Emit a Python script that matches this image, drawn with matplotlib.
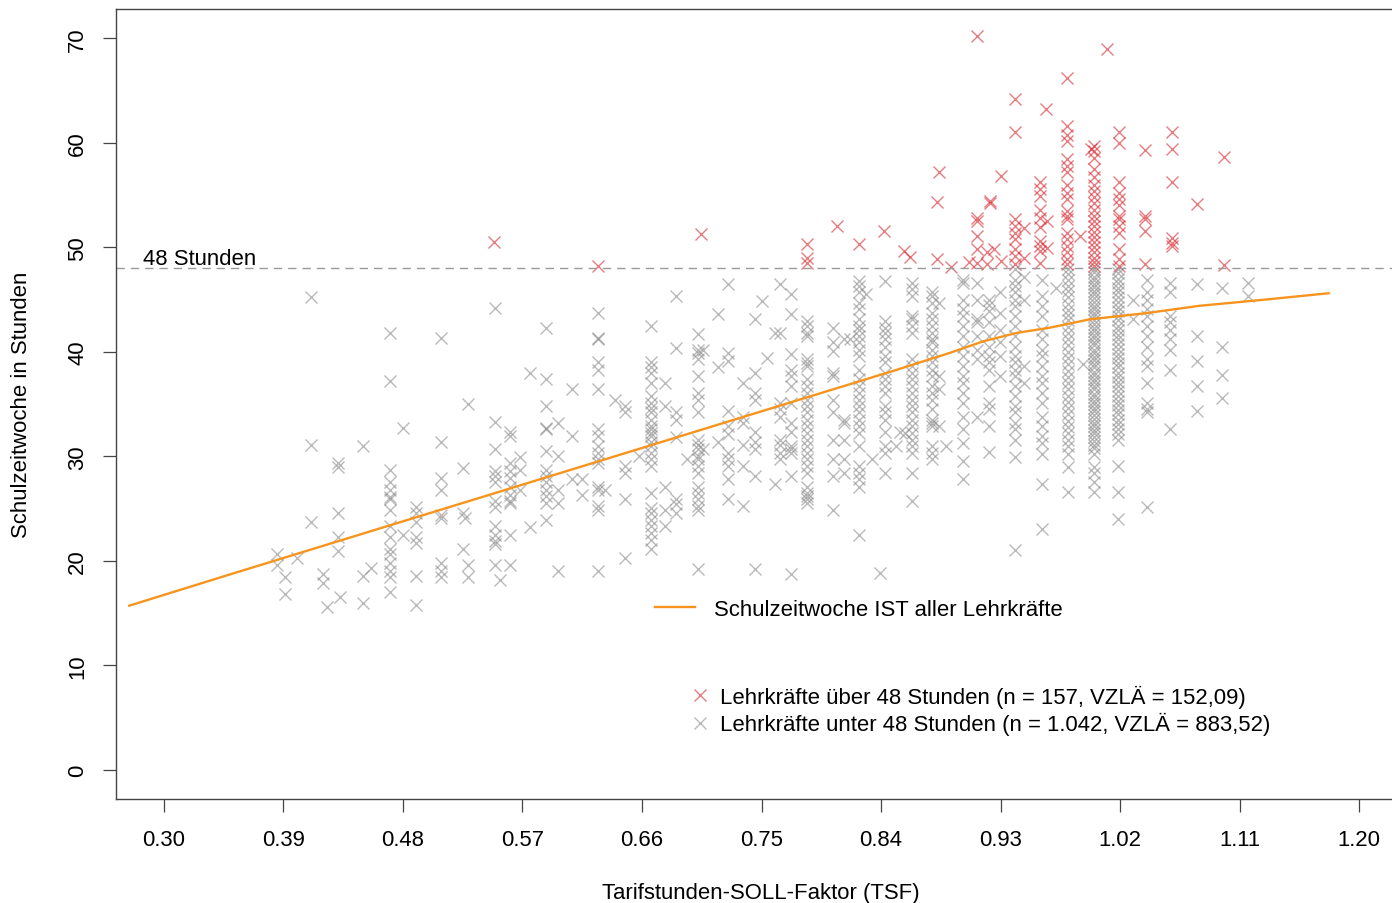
import matplotlib
matplotlib.use('Agg')
import matplotlib.pyplot as plt
from matplotlib.lines import Line2D

plt.rcParams['font.family'] = ['Liberation Sans', 'DejaVu Sans']
FS = 15.9

# TSF-Spalten und Schulzeitwoche (Stunden) der Lehrkräfte unter 48 Stunden
grey_tsf = [0.385, 0.391, 0.400, 0.411, 0.420, 0.423, 0.431, 0.433, 0.450, 0.456,
            0.470, 0.480, 0.490, 0.509, 0.525, 0.527, 0.529, 0.549, 0.553, 0.561,
            0.568, 0.576, 0.588, 0.597, 0.607, 0.615, 0.627, 0.632, 0.640, 0.647,
            0.658, 0.6665, 0.677, 0.686, 0.694, 0.7024, 0.706, 0.7175, 0.725, 0.736,
            0.745, 0.750, 0.754, 0.760, 0.764, 0.772, 0.784, 0.8035, 0.812, 0.817,
            0.8234, 0.829, 0.833, 0.839, 0.843, 0.851, 0.854, 0.858, 0.863, 0.878,
            0.884, 0.889, 0.902, 0.912, 0.921, 0.9296, 0.941, 0.948, 0.961, 0.972,
            0.981, 0.992, 1.000, 1.0187, 1.030, 1.040, 1.0576, 1.078, 1.097, 1.116]
grey_hours = [
    [20.6, 19.6], [18.4, 16.8], [20.3], [45.2, 31.1, 23.7], [18.7, 17.9], [15.6],
    [29.4, 29.0, 24.6, 22.3, 20.9], [16.5], [31.0, 18.5, 16.0], [19.3],
    [41.8, 37.2, 28.7, 27.5, 26.8, 26.1, 25.9, 24.9, 23.3, 22.3, 21.1, 20.6, 19.8, 19.0, 18.4, 17.0],
    [32.7, 22.5], [25.1, 24.6, 23.7, 22.3, 21.7, 18.5, 15.8],
    [41.3, 31.4, 27.9, 26.8, 24.4, 24.1, 19.8, 19.0, 18.4],
    [28.9, 24.6, 21.1], [24.1], [35.0, 19.6, 18.4],
    [44.2, 33.3, 30.7, 28.6, 28.1, 27.5, 25.7, 25.1, 23.3, 22.5, 21.9, 21.6, 19.6],
    [18.2], [32.3, 31.9, 29.4, 28.6, 27.9, 27.1, 26.3, 25.7, 25.5, 22.5, 19.6],
    [29.9, 28.7, 26.8], [38.0, 23.2],
    [42.3, 37.4, 34.8, 32.7, 32.6, 30.5, 28.7, 28.1, 27.5, 26.8, 26.2, 25.5, 23.9],
    [33.2, 30.0, 26.8, 25.5, 19.0], [36.4, 31.9, 27.8], [27.8, 26.3],
    [43.7, 41.3, 41.2, 39.0, 38.3, 36.4, 32.6, 31.9, 31.0, 30.3, 29.7, 29.4, 27.1, 26.8, 25.2, 24.9, 19.0],
    [26.8], [35.4], [34.8, 34.2, 29.1, 28.4, 25.9, 20.3], [30.0],
    [42.5, 39.0, 38.5, 38.0, 37.0, 35.8, 35.1, 34.6, 34.2, 33.5, 32.9, 32.6, 32.2, 31.9,
     31.4, 31.0, 30.3, 29.7, 29.1, 26.5, 25.0, 24.6, 23.9, 23.3, 22.7, 22.0, 21.1],
    [37.0, 34.8, 27.1, 24.9, 23.3], [45.3, 40.4, 34.2, 33.5, 31.8, 25.9, 25.4, 24.6], [29.7],
    [41.7, 40.2, 39.9, 39.3, 37.7, 36.1, 35.4, 34.2, 31.6, 31.1, 30.7, 30.0, 29.7, 29.1,
     28.4, 27.1, 26.5, 25.9, 25.2, 24.9, 19.2],
    [40.2, 30.7], [43.6, 38.5, 31.4],
    [46.5, 39.9, 39.1, 34.3, 32.9, 32.1, 30.3, 29.7, 29.1, 27.8, 25.9],
    [37.0, 33.8, 33.2, 31.1, 29.1, 25.2],
    [43.1, 38.0, 36.1, 35.4, 32.3, 31.4, 30.7, 28.1, 19.2], [44.9], [39.4], [41.8, 27.3],
    [46.5, 41.8, 35.1, 34.5, 33.8, 31.6, 31.1, 30.3, 29.7],
    [45.5, 43.6, 39.8, 38.3, 37.7, 36.7, 35.1, 33.2, 32.3, 31.0, 30.7, 30.3, 28.1, 18.7],
    [42.9, 42.5, 41.8, 41.5, 39.3, 38.9, 38.6, 37.4, 36.7, 36.1, 35.4, 34.8, 34.2, 33.5,
     32.9, 32.2, 31.6, 31.0, 30.3, 29.7, 29.1, 28.4, 27.1, 26.5, 26.2, 25.9, 25.5],
    [42.3, 40.9, 40.1, 38.0, 37.7, 35.4, 34.2, 31.6, 29.7, 28.1, 24.9],
    [41.2, 33.5, 33.2, 31.6, 29.7, 28.4], [41.2],
    [46.8, 46.3, 45.7, 44.7, 44.1, 43.1, 42.5, 42.1, 41.5, 40.9, 40.2, 39.6, 38.3, 37.4,
     36.7, 36.1, 35.4, 34.8, 34.2, 33.5, 32.9, 32.2, 31.0, 29.1, 28.4, 27.8, 27.1, 22.5],
    [45.5], [29.7], [18.8],
    [46.8, 42.9, 42.3, 41.8, 41.2, 40.5, 39.6, 39.0, 38.0, 37.4, 36.7, 36.1, 34.8, 34.2,
     33.5, 32.3, 31.0, 30.3, 28.4],
    [31.0], [32.3], [32.2],
    [46.6, 46.0, 45.3, 43.4, 43.1, 42.5, 41.8, 39.3, 38.6, 38.0, 37.4, 36.7, 36.1, 35.4,
     34.8, 34.2, 33.5, 32.9, 32.2, 31.6, 31.0, 30.3, 28.4, 25.7],
    [45.7, 45.3, 44.7, 43.7, 43.1, 42.5, 41.8, 41.2, 40.9, 40.2, 39.6, 39.0, 38.3, 37.7,
     36.7, 36.1, 35.4, 34.5, 33.5, 33.2, 32.9, 31.0, 30.3, 29.7],
    [44.7, 37.7, 36.4, 32.9], [31.0],
    [46.9, 46.6, 45.0, 44.1, 43.4, 42.5, 41.5, 40.5, 39.6, 38.6, 37.7, 37.0, 36.1, 35.1,
     33.8, 32.6, 31.3, 29.5, 27.8],
    [46.6, 45.0, 43.1, 42.8, 41.5, 40.2, 39.3, 33.8],
    [45.0, 44.5, 43.9, 42.8, 41.5, 40.5, 39.6, 39.0, 38.3, 36.7, 35.1, 34.5, 32.9, 30.4],
    [45.7, 43.7, 42.1, 40.9, 39.6, 37.7],
    [47.9, 46.9, 46.3, 45.7, 45.0, 44.4, 43.4, 42.5, 41.5, 40.5, 39.6, 39.0, 38.3, 37.7,
     36.7, 35.8, 34.8, 34.2, 33.2, 32.6, 31.6, 29.9, 21.0],
    [47.2, 45.0, 38.6, 37.0],
    [46.9, 45.3, 44.4, 43.4, 42.1, 41.2, 40.2, 39.6, 38.6, 37.7, 37.0, 36.1, 35.1, 33.8,
     32.9, 31.9, 31.3, 30.2, 27.3, 23.0],
    [46.1],
    [47.9, 47.4, 46.9, 46.3, 45.8, 45.2, 44.6, 44.0, 43.5, 43.0, 42.4, 41.8, 41.2, 40.6,
     40.0, 39.4, 38.8, 38.2, 37.6, 37.0, 36.4, 35.8, 35.2, 34.6, 34.0, 33.4, 32.8, 32.2,
     31.6, 31.0, 30.2, 29.0, 26.6],
    [38.8],
    [47.9, 47.6, 47.2, 46.9, 46.5, 46.2, 45.8, 45.5, 45.1, 44.8, 44.4, 44.1, 43.7, 43.4,
     43.0, 42.7, 42.3, 42.0, 41.6, 41.3, 40.9, 40.6, 40.2, 39.9, 39.5, 39.2, 38.8, 38.5,
     38.1, 37.8, 37.4, 37.1, 36.7, 36.4, 36.0, 35.7, 35.3, 35.0, 34.6, 34.3, 33.9, 33.6,
     33.2, 32.9, 32.5, 32.2, 31.8, 31.5, 31.1, 30.8, 30.2, 29.0, 28.4, 27.5, 26.6],
    [47.9, 47.5, 47.0, 46.6, 46.1, 45.7, 45.2, 44.8, 44.3, 43.9, 43.4, 43.0, 42.5, 42.1,
     41.6, 41.2, 40.7, 40.3, 39.8, 39.4, 38.9, 38.5, 38.0, 37.6, 37.1, 36.7, 36.2, 35.8,
     35.3, 34.9, 34.4, 34.0, 33.5, 33.1, 32.6, 32.1, 31.6, 29.1, 26.6, 24.0],
    [45.0, 43.1],
    [46.9, 45.7, 45.0, 44.1, 43.4, 42.5, 41.5, 40.5, 39.3, 38.6, 37.0, 35.1, 34.5, 34.2, 25.1],
    [46.6, 45.7, 43.4, 42.8, 42.1, 41.2, 40.2, 38.3, 32.6],
    [46.5, 41.5, 39.1, 36.7, 34.3], [46.1, 40.5, 37.8, 35.6], [46.6, 45.3],
]

# TSF-Spalten und Schulzeitwoche der Lehrkräfte über 48 Stunden
red_tsf = [0.5486, 0.627, 0.7044, 0.784, 0.807, 0.8236, 0.842, 0.857, 0.862, 0.882,
           0.884, 0.893, 0.906, 0.912, 0.920, 0.922, 0.925, 0.930, 0.941, 0.948,
           0.960, 0.964, 0.965, 0.980, 0.990, 0.998, 1.000, 1.010, 1.0195, 1.039,
           1.059, 1.078, 1.098]
red_hours = [
    [50.5], [48.2], [51.3], [50.3, 49.0, 48.5], [52.0], [50.3], [51.6], [49.6], [49.1],
    [54.3, 48.9], [57.2], [48.1], [48.6], [70.2, 52.8, 52.5, 51.1, 49.8, 48.5],
    [49.5, 48.4], [54.4, 54.2], [49.8], [56.8, 48.7],
    [64.2, 61.0, 52.7, 52.0, 51.4, 50.8, 49.8, 49.2, 48.4], [51.8, 49.0],
    [56.2, 55.6, 54.9, 53.6, 52.8, 51.9, 50.6, 50.1, 49.6, 48.5], [63.2], [52.5, 49.9],
    [66.2, 61.6, 60.7, 60.2, 58.4, 57.8, 57.2, 56.0, 55.2, 54.6, 53.5, 53.0, 52.7, 51.4,
     50.8, 50.1, 49.5, 48.9, 48.4],
    [51.1], [59.4],
    [59.7, 59.2, 58.5, 57.5, 56.7, 56.0, 55.4, 54.8, 54.2, 53.6, 53.0, 52.5, 52.0, 51.5,
     51.0, 50.5, 50.0, 49.5, 49.0, 48.6, 48.2],
    [69.0],
    [61.0, 60.0, 56.2, 55.2, 54.6, 54.0, 53.0, 52.7, 52.0, 51.4, 49.8, 48.9, 48.2],
    [59.3, 53.0, 52.7, 51.6, 48.4], [61.0, 59.4, 56.2, 50.9, 50.4, 50.1], [54.1],
    [58.6, 48.3],
]

# geglättete Schulzeitwoche IST aller Lehrkräfte
trend_tsf = [0.274, 0.35, 0.45, 0.55, 0.65, 0.75, 0.85, 0.892, 0.917, 0.942, 0.967,
             0.997, 1.04, 1.08, 1.13, 1.177]
trend_hours = [15.7, 18.7, 22.6, 26.5, 30.4, 34.3, 38.2, 39.9, 41.0, 41.8, 42.3,
               43.1, 43.7, 44.4, 45.0, 45.6]

xticks = [0.30, 0.39, 0.48, 0.57, 0.66, 0.75, 0.84, 0.93, 1.02, 1.11, 1.20]
yticks = [0, 10, 20, 30, 40, 50, 60, 70]
limit = 48

grey_x = [x for x, ys in zip(grey_tsf, grey_hours) for y in ys]
grey_y = [y for ys in grey_hours for y in ys]
red_x = [x for x, ys in zip(red_tsf, red_hours) for y in ys]
red_y = [y for ys in red_hours for y in ys]

W, H = 1392, 904
fig = plt.figure(figsize=(W / 100, H / 100), dpi=100)
ax = fig.add_axes([116 / W, 1 - 800 / H, (1407 - 116) / W, 790 / H])

grey_col = '#8c8c8c'
red_col = '#d7262f'
orange = '#f7941d'
mk = dict(marker='x', linestyle='none', markersize=8.5, markeredgewidth=1.0, alpha=0.6)

ax.plot(grey_x, grey_y, color=grey_col, **mk)
ax.plot(red_x, red_y, color=red_col, **mk)
ax.axhline(limit, color='#9a9a9a', lw=1.0, dashes=(6, 4.3))
ax.plot(trend_tsf, trend_hours, color=orange, lw=1.7)
ax.text(0.284, limit - 0.1, '48 Stunden', fontsize=FS, ha='left', va='bottom')

ax.set_xlim(0.264, 1.236)
ax.set_ylim(-2.8, 72.8)
ax.set_xticks(xticks)
ax.set_xticklabels(['%.2f' % t for t in xticks])
ax.set_yticks(yticks)
ax.set_yticklabels([str(t) for t in yticks], rotation=90, va='center')
ax.tick_params(axis='x', length=9.4, width=0.9, color='#444444', pad=12, labelsize=FS)
ax.tick_params(axis='y', length=9.4, width=0.9, color='#444444', pad=10.5, labelsize=FS)
for s in ax.spines.values():
    s.set_color('#444444')
    s.set_linewidth(1.0)

fig.text(761 / W, 1 - 894 / H, 'Tarifstunden-SOLL-Faktor (TSF)', fontsize=FS,
         ha='center', va='center')
fig.text(22 / W, 1 - 405 / H, 'Schulzeitwoche in Stunden', fontsize=FS,
         rotation=90, ha='center', va='center')

leg1 = fig.legend(handles=[Line2D([], [], color=orange, lw=1.7)],
                  labels=['Schulzeitwoche IST aller Lehrkräfte'],
                  loc='center left', bbox_to_anchor=(655 / W, 1 - 610 / H),
                  frameon=False, fontsize=FS, borderpad=0, borderaxespad=0,
                  handlelength=1.82, handletextpad=0.86)
leg2 = fig.legend(handles=[Line2D([], [], color=red_col, **mk),
                           Line2D([], [], color=grey_col, **mk)],
                  labels=['Lehrkräfte über 48 Stunden (n = 157, VZLÄ = 152,09)',
                          'Lehrkräfte unter 48 Stunden (n = 1.042, VZLÄ = 883,52)'],
                  loc='center left', bbox_to_anchor=(693 / W, 1 - 711 / H),
                  frameon=False, fontsize=FS, borderpad=0, borderaxespad=0,
                  handlelength=0.6, handletextpad=0.6, labelspacing=0.2)

fig.savefig('out.png', dpi=100)
